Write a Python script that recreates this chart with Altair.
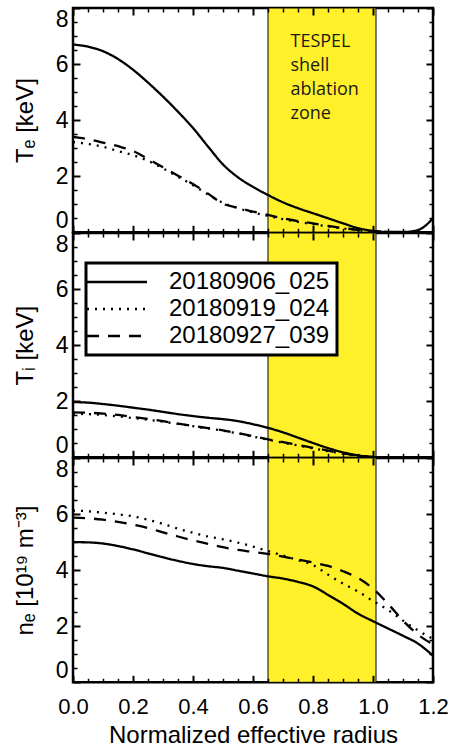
import altair as alt
import pandas as pd

# Normalized effective radius grid shared by all profiles
radius = [0.00, 0.05, 0.10, 0.15, 0.20, 0.25, 0.30, 0.35, 0.40, 0.45, 0.50, 0.55,
          0.60, 0.65, 0.70, 0.75, 0.80, 0.85, 0.90, 0.95, 1.00, 1.05, 1.10, 1.15, 1.20]

shots = ["20180906_025", "20180919_024", "20180927_039"]

# Electron temperature [keV]
te_025 = [6.70, 6.62, 6.46, 6.18, 5.80, 5.34, 4.84, 4.30, 3.72, 3.06, 2.42, 1.96,
          1.62, 1.33, 1.07, 0.86, 0.68, 0.50, 0.32, 0.15, 0.05, 0.01, 0.01, 0.08, 0.50]
te_024 = [3.22, 3.15, 3.05, 2.90, 2.75, 2.55, 2.28, 1.98, 1.68, 1.35, 1.05, 0.86,
          0.71, 0.58, 0.47, 0.37, 0.29, 0.21, 0.14, 0.08, 0.03, 0.01, 0.00, 0.00, 0.00]
te_039 = [3.40, 3.32, 3.20, 3.07, 2.90, 2.62, 2.32, 2.02, 1.72, 1.38, 1.02, 0.88,
          0.74, 0.62, 0.50, 0.40, 0.32, 0.23, 0.15, 0.09, 0.04, 0.01, 0.00, 0.00, 0.00]

# Ion temperature [keV]
ti_025 = [1.97, 1.95, 1.90, 1.84, 1.77, 1.70, 1.62, 1.54, 1.47, 1.41, 1.36, 1.29,
          1.18, 1.05, 0.89, 0.70, 0.51, 0.33, 0.18, 0.07, 0.01, 0.00, 0.00, 0.00, 0.00]
ti_024 = [1.55, 1.54, 1.51, 1.46, 1.40, 1.34, 1.27, 1.19, 1.11, 1.03, 0.95, 0.85,
          0.74, 0.63, 0.52, 0.42, 0.32, 0.22, 0.13, 0.05, 0.01, 0.00, 0.00, 0.00, 0.00]
ti_039 = [1.60, 1.59, 1.56, 1.51, 1.44, 1.37, 1.29, 1.20, 1.12, 1.04, 0.96, 0.86,
          0.75, 0.64, 0.54, 0.44, 0.34, 0.24, 0.14, 0.06, 0.01, 0.00, 0.00, 0.00, 0.00]

# Electron density [1e19 m^-3]
ne_025 = [5.00, 4.99, 4.95, 4.86, 4.74, 4.60, 4.46, 4.33, 4.22, 4.14, 4.08, 3.98,
          3.88, 3.78, 3.70, 3.58, 3.42, 3.12, 2.80, 2.45, 2.18, 1.92, 1.66, 1.38, 0.95]
ne_024 = [6.13, 6.10, 6.05, 5.99, 5.92, 5.80, 5.65, 5.48, 5.33, 5.20, 5.10, 4.98,
          4.84, 4.68, 4.52, 4.36, 4.18, 3.84, 3.52, 3.24, 2.90, 2.58, 2.20, 1.85, 1.55]
ne_039 = [5.87, 5.85, 5.80, 5.72, 5.62, 5.50, 5.35, 5.20, 5.06, 4.94, 4.82, 4.72,
          4.65, 4.58, 4.48, 4.38, 4.27, 4.15, 3.96, 3.72, 3.34, 2.80, 2.20, 1.70, 1.35]

# Shell ablation zone
band_start = [0.65]
band_end = [1.01]
zone_label = ["TESPEL\nshell\nablation\nzone"]
zone_x = [0.725]
zone_y = [6.6]

# Axis tick positions
x_ticks = [0.0, 0.05, 0.1, 0.15, 0.2, 0.25, 0.3, 0.35, 0.4, 0.45, 0.5, 0.55, 0.6,
           0.65, 0.7, 0.75, 0.8, 0.85, 0.9, 0.95, 1.0, 1.05, 1.1, 1.15, 1.2]
x_labels = [0.0, 0.2, 0.4, 0.6, 0.8, 1.0, 1.2]
y_ticks = [0, 0.5, 1, 1.5, 2, 2.5, 3, 3.5, 4, 4.5, 5, 5.5, 6, 6.5, 7, 7.5, 8]
y_labels = [0, 2, 4, 6, 8]

W, H = 360, 224.3
FONT = "Liberation Sans"
YELLOW = "#FFF02A"

x_scale = alt.Scale(domain=[0, 1.2], nice=False, zero=False)
y_scale = alt.Scale(domain=[0, 8], nice=False)
dash_scale = alt.Scale(domain=shots, range=[[1, 0], [2, 6], [12, 9]])

major_x = "abs(datum.value * 5 - round(datum.value * 5)) < 0.001"
major_y = "abs(datum.value / 2 - round(datum.value / 2)) < 0.001"


def tick_axis(orient, offset, values, major_test):
    """Inward-pointing ticks: an axis on the opposite edge, pulled across the plot."""
    return alt.Axis(
        orient=orient, offset=offset, values=values,
        labels=False, domain=False, grid=False, title=None, zindex=1,
        tickColor="black",
        tickSize={"condition": {"test": major_test, "value": 7}, "value": 4},
        tickWidth={"condition": {"test": major_test, "value": 2}, "value": 1.5},
    )


def panel(series, y_title, bottom=False, legend=None, note=False):
    rows = []
    for shot, vals in zip(shots, series):
        for r, v in zip(radius, vals):
            rows.append({"r": r, "v": v, "shot": shot})
    df = pd.DataFrame(rows)

    x_axis = alt.Axis(
        orient="bottom", values=x_labels, format=".1f", ticks=False, domain=False,
        grid=False, labels=bottom, labelFlush=False, labelPadding=14, labelFontSize=22,
        title="Normalized effective radius" if bottom else None, titlePadding=6,
    )
    y_axis = alt.Axis(
        orient="left", values=y_labels, ticks=False, domain=False, grid=False,
        labelFlush=True, labelPadding=5, title=y_title, titlePadding=18,
    )

    band = alt.Chart(pd.DataFrame({"start": band_start, "end": band_end})).mark_rect(
        fill=YELLOW, stroke="black", strokeWidth=1
    ).encode(x=alt.X("start:Q", scale=x_scale, axis=None), x2="end:Q")

    lines = alt.Chart(df).mark_line(
        color="black", strokeWidth=2.3, interpolate="monotone"
    ).encode(
        x=alt.X("r:Q", scale=x_scale, axis=x_axis),
        y=alt.Y("v:Q", scale=y_scale, axis=y_axis),
        strokeDash=alt.StrokeDash("shot:N", scale=dash_scale, legend=legend),
    )

    ticks_a = alt.Chart(df).mark_line(strokeOpacity=0).encode(
        x=alt.X("r:Q", scale=x_scale, axis=tick_axis("top", -H, x_ticks, major_x)),
        y=alt.Y("v:Q", scale=y_scale, axis=tick_axis("right", -W, y_ticks, major_y)),
    )
    ticks_b = alt.Chart(df).mark_line(strokeOpacity=0).encode(
        x=alt.X("r:Q", scale=x_scale, axis=tick_axis("bottom", -H, x_ticks, major_x)),
        y=alt.Y("v:Q", scale=y_scale, axis=tick_axis("left", -W, y_ticks, major_y)),
    )

    layers = [band, lines, ticks_a, ticks_b]
    if note:
        text = alt.Chart(pd.DataFrame({"x": zone_x, "y": zone_y, "t": zone_label})).mark_text(
            align="left", baseline="alphabetic", font="Open Sans", fontSize=18,
            lineHeight=24, lineBreak="\n", color="#1a1a1a"
        ).encode(
            x=alt.X("x:Q", scale=x_scale, axis=None),
            y=alt.Y("y:Q", scale=y_scale, axis=None),
            text="t:N",
        )
        layers.append(text)

    return alt.layer(*layers).resolve_axis(x="independent", y="independent").properties(
        width=W, height=H
    )


# Legend symbol: a 60 px horizontal stroke starting at the entry's left edge
legend = alt.Legend(
    orient="none", legendX=13, legendY=30, title=None,
    symbolType="M-1.8,0H4.2", symbolSize=400, symbolStrokeWidth=2.3,
    symbolStrokeColor="black",
    labelFont=FONT, labelFontSize=24, labelColor="black", labelOffset=52, labelLimit=400,
    rowPadding=3, padding=7, strokeColor="black", fillColor="white",
)

p_te = panel([te_025, te_024, te_039], "Tₑ [keV]", note=True)
p_ti = panel([ti_025, ti_024, ti_039], "Tᵢ [keV]", legend=legend)
p_ne = panel([ne_025, ne_024, ne_039], "nₑ [10¹⁹ m⁻³]", bottom=True)

chart = alt.vconcat(p_te, p_ti, p_ne, spacing=0, bounds="flush").resolve_scale(
    strokeDash="independent"
).resolve_legend(
    strokeDash="independent"
).properties(
    padding={"left": 11, "top": 5, "right": 0, "bottom": 0},
    background="white",
).configure_view(
    stroke="black", strokeWidth=2.5
).configure_axis(
    labelFont=FONT, titleFont=FONT, labelFontSize=23, titleFontSize=24,
    titleFontWeight="normal", labelColor="black", titleColor="black",
).configure_legend(
    strokeWidth=3
)

chart.save("out.html", embed_options={"renderer": "svg", "actions": False})
